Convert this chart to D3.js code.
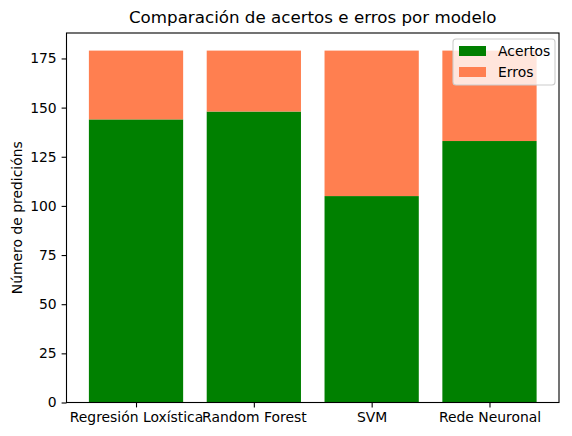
<!DOCTYPE html>
<html><head><meta charset="utf-8">
<script src="https://cdn.jsdelivr.net/npm/d3@7"></script>
<style>body{margin:0;background:#fff}svg{display:block;font-family:"DejaVu Sans",sans-serif}</style>
</head><body><svg id="c" width="572" height="436"></svg>
<script>
const categories = ["Regresión Loxística","Random Forest","SVM","Rede Neuronal"];
const acertos = [144,148,105,133];
const erros = [35,31,74,46];
const yTicks = [0,25,50,75,100,125,150,175];
const seriesNames = ["Acertos","Erros"];
const colors = ["green","#ff7f50"];

const svg = d3.select("#c");
const L=66.5, R=559, T=33, B=402.5;
const n = categories.length;
const totals = categories.map((c,i)=>acertos[i]+erros[i]);
const ymax = d3.max(totals)*1.05;
const x = d3.scaleLinear().domain([-0.4-0.19,(n-1)+0.4+0.19]).range([L,R]);
const y = d3.scaleLinear().domain([0,ymax]).range([B,T]);
const bw = x(0.8)-x(0);

const data = categories.map((c,i)=>({c,i,a:acertos[i],e:erros[i]}));
svg.selectAll("rect.a").data(data).join("rect").attr("x",d=>x(d.i-0.4)).attr("width",bw)
  .attr("y",d=>y(d.a)).attr("height",d=>y(0)-y(d.a)).attr("fill",colors[0]);
svg.selectAll("rect.e").data(data).join("rect").attr("x",d=>x(d.i-0.4)).attr("width",bw)
  .attr("y",d=>y(d.a+d.e)).attr("height",d=>y(d.a)-y(d.a+d.e)).attr("fill",colors[1]);

const fs = 13.9;
const ya = svg.append("g").attr("transform",`translate(${L},0)`)
  .call(d3.axisLeft(y).tickValues(yTicks).tickSize(4.9).tickPadding(4.9));
const xa = svg.append("g").attr("transform",`translate(0,${B})`)
  .call(d3.axisBottom(x).tickValues(d3.range(n)).tickFormat(i=>categories[i]).tickSize(4.9).tickPadding(4.9));
[ya,xa].forEach(g=>{g.select(".domain").remove();g.selectAll("text").attr("font-size",fs).attr("fill","#000").attr("font-family","DejaVu Sans");g.selectAll("line").attr("stroke","#000").attr("stroke-width",1.1);});

svg.append("rect").attr("x",L).attr("y",T).attr("width",R-L).attr("height",B-T)
  .attr("fill","none").attr("stroke","#000").attr("stroke-width",1.1);

svg.append("text").attr("x",(L+R)/2).attr("y",23).attr("text-anchor","middle")
  .attr("font-size",16.7).text("Comparación de acertos e erros por modelo");
svg.append("text").attr("transform",`translate(22,${(T+B)/2}) rotate(-90)`).attr("text-anchor","middle")
  .attr("font-size",fs).text("Número de predicións");

const lg = svg.append("g");
lg.append("rect").attr("x",453).attr("y",39).attr("width",102).attr("height",46).attr("rx",3)
  .attr("fill","#fff").attr("fill-opacity",0.8).attr("stroke","#ccc").attr("stroke-width",1.1);
seriesNames.forEach((s,i)=>{
  lg.append("rect").attr("x",459).attr("y",46+i*21).attr("width",27).attr("height",10).attr("fill",colors[i]);
  lg.append("text").attr("x",498).attr("y",56+i*21).attr("font-size",fs).text(s);
});
</script></body></html>
